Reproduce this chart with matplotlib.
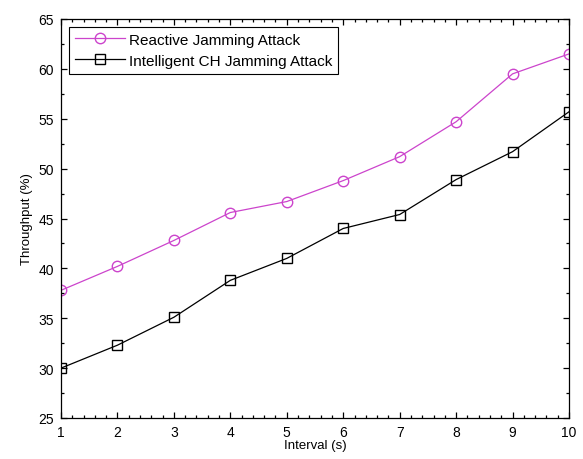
import matplotlib
matplotlib.use("Agg")
import matplotlib.pyplot as plt
from matplotlib.ticker import MultipleLocator

interval = [1, 2, 3, 4, 5, 6, 7, 8, 9, 10]
reactive = [37.8, 40.2, 42.8, 45.6, 46.7, 48.8, 51.2, 54.7, 59.5, 61.5]
intelligent = [30.0, 32.3, 35.1, 38.8, 41.0, 44.0, 45.4, 48.9, 51.7, 55.7]

plt.rcParams['font.family'] = ['Liberation Sans', 'DejaVu Sans']
plt.rcParams['font.size'] = 10

fig = plt.figure(figsize=(5.83, 4.6), dpi=100)
# axes box in pixels: left 61, right 569, top 20, bottom 419
ax = fig.add_axes([61 / 583, 41 / 460, 508 / 583, 399 / 460])

ax.plot(interval, reactive, color="#cc44cc", linewidth=0.9, marker="o", markersize=7.5,
        markerfacecolor="none", markeredgecolor="#cc44cc", label="Reactive Jamming Attack")
ax.plot(interval, intelligent, color="black", linewidth=0.9, marker="s", markersize=7.5,
        markerfacecolor="none", markeredgecolor="black", label="Intelligent CH Jamming Attack")

ax.set_xlim(1, 10)
ax.set_ylim(25, 65)
ax.xaxis.set_major_locator(MultipleLocator(1))
ax.xaxis.set_minor_locator(MultipleLocator(0.2))
ax.yaxis.set_major_locator(MultipleLocator(5))
ax.yaxis.set_minor_locator(MultipleLocator(2.5))
ax.tick_params(which="both", direction="in", top=True, right=True, width=0.9)
ax.tick_params(which="major", length=4.3, pad=5)
ax.tick_params(which="minor", length=2.2)
for s in ax.spines.values():
    s.set_linewidth(0.9)

ax.set_xlabel("Interval (s)", fontsize=9.5, labelpad=0)
ax.set_ylabel("Throughput (%)", fontsize=9.5, labelpad=4)

leg = ax.legend(loc="upper left", fancybox=False, framealpha=1, edgecolor="black",
                borderaxespad=0.5, handlelength=3.3, handletextpad=0.25,
                labelspacing=0.45, fontsize=11)
leg.get_frame().set_linewidth(0.8)

fig.savefig("out.png", dpi=100)
